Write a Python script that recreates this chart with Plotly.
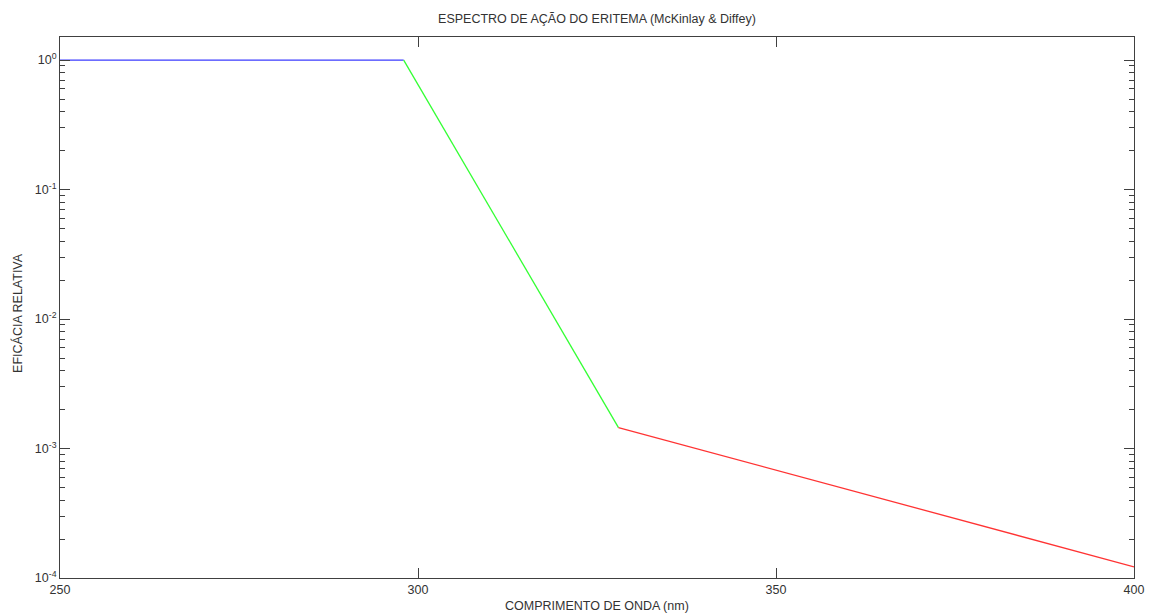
import plotly.graph_objects as go

# Data (segments of the McKinlay & Diffey erythema action spectrum)
blue_x = [250, 298]
blue_y = [1.0, 1.0]
green_x = [298, 328]
green_y = [1.0, 0.00145]
red_x = [328, 400]
red_y = [0.00145, 0.000122]

x_ticks = [250, 300, 350, 400]
y_ticks = [1e-4, 1e-3, 1e-2, 1e-1, 1]
y_ticktext = ["10<sup>-4</sup>", "10<sup>-3</sup>", "10<sup>-2</sup>", "10<sup>-1</sup>", "10<sup>0</sup>"]
y_minor = [m * 10 ** e for e in range(-4, 1) for m in range(2, 10)]

fig = go.Figure()
fig.add_trace(go.Scatter(x=blue_x, y=blue_y, mode="lines", line=dict(color="#3b3bff", width=1.3), showlegend=False))
fig.add_trace(go.Scatter(x=green_x, y=green_y, mode="lines", line=dict(color="#33ff33", width=1.3), showlegend=False))
fig.add_trace(go.Scatter(x=red_x, y=red_y, mode="lines", line=dict(color="#ff3333", width=1.3), showlegend=False))

font = "Liberation Sans, Arial, sans-serif"
txt = "#333333"
fs = 12.5
W, H = 1147, 607
fig.update_layout(
    width=W, height=H,
    margin=dict(l=52, r=21, t=29, b=37, autoexpand=False),
    paper_bgcolor="white", plot_bgcolor="white",
    font=dict(family=font, size=fs, color=txt),
    title=dict(text="ESPECTRO DE AÇÃO DO ERITEMA (McKinlay & Diffey)", x=0.5, xanchor="center",
               xref="paper", y=1 - 11 / H, yref="container", yanchor="middle",
               font=dict(size=fs, color=txt)),
    xaxis=dict(
        range=[250, 400], tickmode="array", tickvals=x_ticks, ticktext=[str(v) for v in x_ticks],
        ticks="inside", ticklen=10, tickcolor="#404040", showgrid=False, zeroline=False,
        showline=True, linecolor="#404040", linewidth=1, mirror="ticks", automargin=False,
        tickfont=dict(size=fs, color=txt),
    ),
    yaxis=dict(
        type="log", range=[-4, 0.178], tickmode="array", tickvals=y_ticks, ticktext=y_ticktext,
        ticks="inside", ticklen=10, tickcolor="#404040", showgrid=False, zeroline=False,
        showline=True, linecolor="#404040", linewidth=1, mirror="ticks", automargin=False,
        minor=dict(tickmode="array", tickvals=y_minor, ticks="inside", ticklen=5, tickcolor="#404040", showgrid=False),
        tickfont=dict(size=fs, color=txt),
    ),
    annotations=[
        dict(text="COMPRIMENTO DE ONDA (nm)", xref="paper", yref="paper", x=0.5, y=-28 / 541,
             xanchor="center", yanchor="middle", showarrow=False, font=dict(size=fs, color=txt)),
        dict(text="EFICÁCIA RELATIVA", xref="paper", yref="paper", x=-42 / 1074, y=0.49,
             xanchor="center", yanchor="middle", textangle=-90, showarrow=False, font=dict(size=fs, color=txt)),
    ],
)

fig.write_html("out.html")
